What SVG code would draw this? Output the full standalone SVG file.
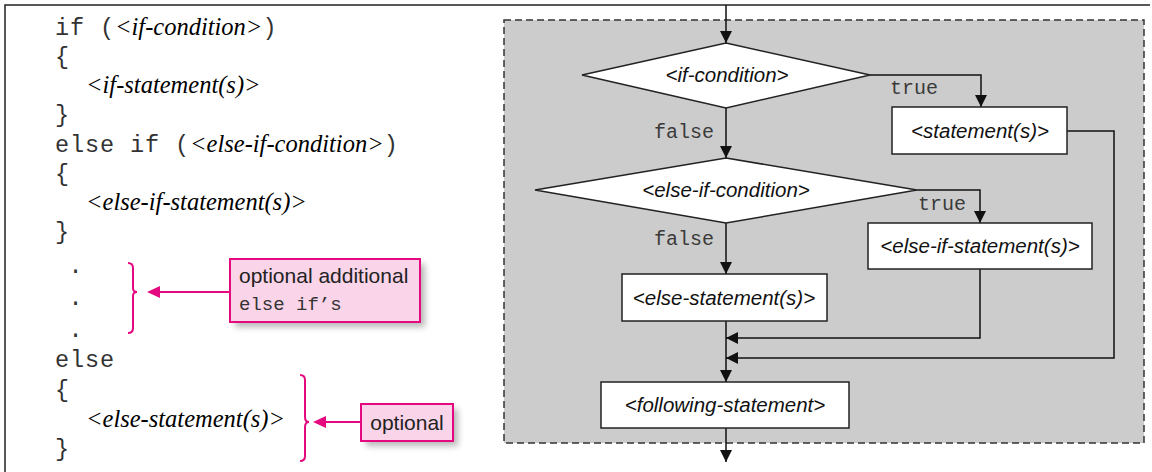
<svg xmlns="http://www.w3.org/2000/svg" width="1152" height="472" viewBox="0 0 1152 472">
<defs>
<style>
.frame{fill:none;stroke:#222;stroke-width:1.5}
.code{font-family:"Liberation Mono","Courier New",monospace;font-size:23.5px;letter-spacing:0.9px;fill:#333}
.ital{font-family:"Liberation Serif","Times New Roman",serif;font-style:italic;font-size:24.5px;letter-spacing:0;fill:#000}
.lbl{font-family:"Liberation Mono","Courier New",monospace;font-size:20px;fill:#3a3a3a}
.nt{font-family:"Liberation Sans",Arial,sans-serif;font-style:italic;font-size:20.5px;fill:#111;text-anchor:middle}
.box{fill:#fff;stroke:#222;stroke-width:1.5}
.conn{fill:none;stroke:#111;stroke-width:1.5}
.pink{fill:#fad5e9;stroke:#e5097f;stroke-width:2}
.pk{fill:none;stroke:#e5097f;stroke-width:2}
.ptxt{font-family:"Liberation Sans",Arial,sans-serif;font-size:21px;fill:#222}
.pmono{font-family:"Liberation Mono","Courier New",monospace;font-size:19px;fill:#333}
</style>
<marker id="arr" markerUnits="userSpaceOnUse" markerWidth="12" markerHeight="12" refX="12" refY="6" orient="auto">
<path d="M0,0 L12,6 L0,12 z" fill="#111"/>
</marker>
<filter id="sh" x="-20%" y="-20%" width="150%" height="170%">
<feGaussianBlur stdDeviation="3"/>
</filter>
</defs>

<!-- outer frame -->
<path class="frame" d="M5,472 L5,5 L1150,5"/>

<!-- code listing -->
<g id="code">
<text class="code" x="55" y="35">if (<tspan class="ital">&lt;if-condition&gt;</tspan>)</text>
<text class="code" x="55" y="64">{</text>
<text class="ital" x="86" y="93">&lt;if-statement(s)&gt;</text>
<text class="code" x="55" y="122">}</text>
<text class="code" x="55" y="152">else if (<tspan class="ital">&lt;else-if-condition&gt;</tspan>)</text>
<text class="code" x="55" y="181">{</text>
<text class="ital" x="86" y="210">&lt;else-if-statement(s)&gt;</text>
<text class="code" x="55" y="239">}</text>
<text class="code" x="76" y="273" text-anchor="middle">.</text>
<text class="code" x="76" y="305" text-anchor="middle">.</text>
<text class="code" x="76" y="337" text-anchor="middle">.</text>
<text class="code" x="55" y="367">else</text>
<text class="code" x="55" y="397">{</text>
<text class="ital" x="86" y="427">&lt;else-statement(s)&gt;</text>
<text class="code" x="55" y="456">}</text>
</g>

<!-- callout 1 -->
<g id="callout-elseifs">
<path class="pk" d="M128,263 Q133,263 133,268 L133,288 Q133,292 137,292 Q133,292 133,296 L133,328 Q133,333 128,333"/>
<line class="pk" x1="230" y1="292" x2="158" y2="292"/>
<polygon points="147,292 160,286 160,298" fill="#e5097f"/>
<rect x="235" y="264" width="190" height="63" fill="#888" opacity="0.6" filter="url(#sh)"/>
<rect class="pink" x="230" y="259" width="190" height="63"/>
<text class="ptxt" x="239" y="283">optional additional</text>
<text class="pmono" x="239" y="310">else if’s</text>
</g>

<!-- callout 2 -->
<g id="callout-optional">
<path class="pk" d="M300,375 Q305,375 305,380 L305,417 Q305,422 309,422 Q305,422 305,427 L305,456 Q305,461 300,461"/>
<line class="pk" x1="361" y1="422" x2="324" y2="422"/>
<polygon points="313,422 326,416 326,428" fill="#e5097f"/>
<rect x="366" y="409" width="92" height="37" fill="#888" opacity="0.6" filter="url(#sh)"/>
<rect class="pink" x="361" y="404" width="92" height="37"/>
<text class="ptxt" x="407" y="430" text-anchor="middle">optional</text>
</g>

<!-- flowchart background -->
<rect id="flow-bg" x="504" y="20" width="640" height="423" fill="#cccccc" stroke="#333" stroke-width="1.5" stroke-dasharray="7,4"/>

<g id="connectors">
<line class="conn" x1="726" y1="5" x2="726" y2="43" marker-end="url(#arr)"/>
<line class="conn" x1="726" y1="108" x2="726" y2="158" marker-end="url(#arr)"/>
<polyline class="conn" points="870,75 981,75 981,107" marker-end="url(#arr)"/>
<polyline class="conn" points="1067,131 1114,131 1114,358 726,358" marker-end="url(#arr)"/>
<line class="conn" x1="726" y1="223" x2="726" y2="274" marker-end="url(#arr)"/>
<polyline class="conn" points="917,190 980,190 980,223" marker-end="url(#arr)"/>
<polyline class="conn" points="980,269 980,338 726,338" marker-end="url(#arr)"/>
<line class="conn" x1="726" y1="321" x2="726" y2="382" marker-end="url(#arr)"/>
<line class="conn" x1="726" y1="428" x2="726" y2="462" marker-end="url(#arr)"/>
<text class="lbl" x="890" y="94">true</text>
<text class="lbl" x="714" y="138" text-anchor="end">false</text>
<text class="lbl" x="918" y="210">true</text>
<text class="lbl" x="714" y="245" text-anchor="end">false</text>
</g>

<g id="if-condition">
<polygon class="box" points="726,43 870,75 726,108 582,75"/>
<text class="nt" x="727" y="82">&lt;if-condition&gt;</text>
</g>
<g id="statements">
<rect class="box" x="892" y="107" width="175" height="47"/>
<text class="nt" x="980" y="138">&lt;statement(s)&gt;</text>
</g>
<g id="else-if-condition">
<polygon class="box" points="726,158 917,190 726,223 535,190"/>
<text class="nt" x="726" y="197">&lt;else-if-condition&gt;</text>
</g>
<g id="else-if-statements">
<rect class="box" x="868" y="223" width="224" height="46"/>
<text class="nt" x="980" y="253">&lt;else-if-statement(s)&gt;</text>
</g>
<g id="else-statements">
<rect class="box" x="622" y="274" width="205" height="47"/>
<text class="nt" x="724" y="305">&lt;else-statement(s)&gt;</text>
</g>
<g id="following-statement">
<rect class="box" x="601" y="382" width="248" height="46"/>
<text class="nt" x="725" y="412">&lt;following-statement&gt;</text>
</g>
</svg>
